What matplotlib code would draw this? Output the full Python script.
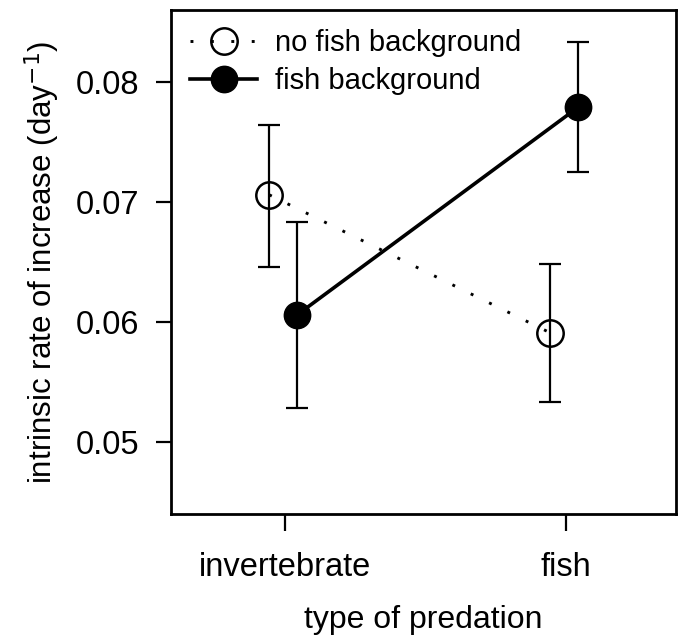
import matplotlib
matplotlib.use("Agg")
import matplotlib.pyplot as plt

plt.rcParams['font.family'] = ['Liberation Sans', 'DejaVu Sans']

# data
predation = ['invertebrate', 'fish']
no_fish_mean = [0.0706, 0.0591]
no_fish_lo = [0.0646, 0.0533]
no_fish_hi = [0.0764, 0.0648]
fish_mean = [0.0606, 0.0779]
fish_lo = [0.0528, 0.0725]
fish_hi = [0.0683, 0.0833]

x = [1, 2]
x_open = [v - 0.057 for v in x]
x_fill = [v + 0.043 for v in x]

fig = plt.figure(figsize=(6.79, 6.39), dpi=100)
ax = fig.add_axes([0.252, 0.1956, 0.7436, 0.7888])

err_open = [[m - l for m, l in zip(no_fish_mean, no_fish_lo)],
            [h - m for m, h in zip(no_fish_mean, no_fish_hi)]]
err_fill = [[m - l for m, l in zip(fish_mean, fish_lo)],
            [h - m for m, h in zip(fish_mean, fish_hi)]]

ax.errorbar(x_open, no_fish_mean, yerr=err_open, fmt='none', ecolor='black',
            elinewidth=1.6, capsize=8, capthick=1.6)
ax.errorbar(x_fill, fish_mean, yerr=err_fill, fmt='none', ecolor='black',
            elinewidth=1.6, capsize=8, capthick=1.6)

ax.plot(x_open, no_fish_mean, linestyle=(0, (1, 6)), lw=2.1, color='black',
        marker='o', markersize=19, markerfacecolor='none', markeredgewidth=1.8,
        label='no fish background')
ax.plot(x_fill, fish_mean, linestyle='-', lw=2.6, color='black',
        marker='o', markersize=19, markerfacecolor='black',
        label='fish background')

ax.set_xlim(0.594, 2.391)
ax.set_ylim(0.044, 0.086)
ax.set_xticks(x)
ax.set_xticklabels(predation)
ax.set_yticks([0.05, 0.06, 0.07, 0.08])
ax.set_yticklabels(['0.05', '0.06', '0.07', '0.08'])
ax.tick_params(axis='x', length=12, width=1.6, pad=15, labelsize=23.5)
ax.tick_params(axis='y', length=11, width=1.6, pad=12, labelsize=23.5)
for s in ax.spines.values():
    s.set_linewidth(2)

ax.set_xlabel('type of predation', fontsize=23, labelpad=16)
ax.set_ylabel('intrinsic rate of increase (day$^{-1}$)', fontsize=22.5, labelpad=10)

ax.legend(loc='upper left', frameon=False, fontsize=21, handlelength=2.3,
          handletextpad=0.6, borderaxespad=0, borderpad=0, labelspacing=0.35,
          bbox_to_anchor=(0.038, 0.962))

fig.savefig('out.png', dpi=100)
